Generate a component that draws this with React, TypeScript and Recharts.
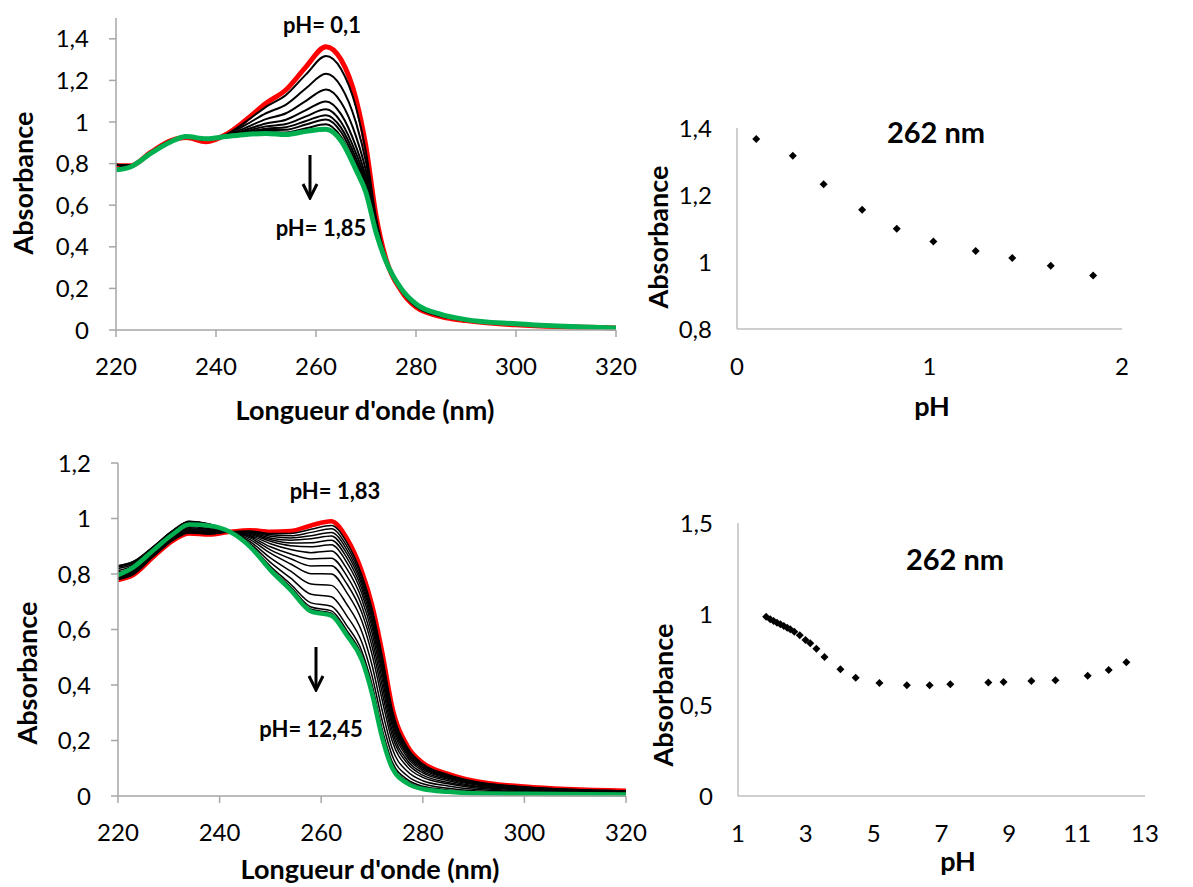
import { LineChart, Line, XAxis, YAxis, ScatterChart, Scatter } from 'recharts'

const wavelengths = [220, 223, 227, 231, 234, 238, 242, 246, 250, 254, 258, 262, 265, 268, 270, 272, 274, 277, 280, 285, 290, 300, 320]

// top spectra: pH 0,1 (red) -> pH 1,85 (green)
const topRed = [0.79, 0.79, 0.855, 0.91, 0.925, 0.905, 0.94, 1.01, 1.09, 1.155, 1.265, 1.362, 1.3, 1.11, 0.88, 0.55, 0.34, 0.19, 0.11, 0.065, 0.045, 0.025, 0.01]
const topC1 = [0.795, 0.79, 0.855, 0.91, 0.928, 0.915, 0.939, 1.002, 1.073, 1.13, 1.229, 1.317, 1.255, 1.071, 0.855, 0.541, 0.339, 0.191, 0.112, 0.066, 0.046, 0.026, 0.01]
const topC2 = [0.795, 0.79, 0.855, 0.91, 0.928, 0.915, 0.937, 0.987, 1.042, 1.084, 1.162, 1.232, 1.171, 0.997, 0.807, 0.523, 0.337, 0.193, 0.115, 0.068, 0.047, 0.027, 0.01]
const topC3 = [0.795, 0.79, 0.855, 0.91, 0.928, 0.915, 0.935, 0.973, 1.014, 1.042, 1.102, 1.156, 1.095, 0.931, 0.764, 0.508, 0.335, 0.195, 0.118, 0.07, 0.048, 0.028, 0.01]
const topC4 = [0.795, 0.79, 0.855, 0.91, 0.928, 0.915, 0.933, 0.963, 0.993, 1.011, 1.057, 1.099, 1.038, 0.882, 0.732, 0.496, 0.333, 0.197, 0.12, 0.072, 0.048, 0.028, 0.01]
const topC5 = [0.795, 0.79, 0.855, 0.91, 0.928, 0.915, 0.932, 0.956, 0.979, 0.99, 1.027, 1.061, 1.0, 0.849, 0.711, 0.489, 0.332, 0.198, 0.122, 0.073, 0.049, 0.029, 0.01]
const topC6 = [0.795, 0.79, 0.855, 0.91, 0.928, 0.915, 0.932, 0.951, 0.968, 0.975, 1.005, 1.033, 0.973, 0.825, 0.695, 0.483, 0.332, 0.198, 0.123, 0.073, 0.049, 0.029, 0.01]
const topC7 = [0.795, 0.79, 0.855, 0.91, 0.928, 0.915, 0.931, 0.947, 0.961, 0.963, 0.988, 1.012, 0.952, 0.806, 0.684, 0.479, 0.331, 0.199, 0.123, 0.074, 0.049, 0.029, 0.01]
const topC8 = [0.795, 0.79, 0.855, 0.91, 0.928, 0.915, 0.93, 0.943, 0.952, 0.95, 0.97, 0.989, 0.929, 0.786, 0.671, 0.474, 0.33, 0.2, 0.124, 0.075, 0.05, 0.03, 0.01]
const topGreen = [0.77, 0.785, 0.85, 0.905, 0.93, 0.92, 0.93, 0.94, 0.945, 0.94, 0.955, 0.965, 0.91, 0.77, 0.66, 0.47, 0.33, 0.2, 0.125, 0.075, 0.05, 0.03, 0.01]
const topBlack = [topC1, topC2, topC3, topC4, topC5, topC6, topC7, topC8]

// bottom spectra: pH 1,83 (red) -> pH 12,45 (green)
const botRed = [0.778, 0.796, 0.862, 0.922, 0.946, 0.942, 0.952, 0.958, 0.952, 0.955, 0.975, 0.99, 0.93, 0.81, 0.69, 0.52, 0.32, 0.18, 0.12, 0.08, 0.055, 0.034, 0.019]
const botB1 = [0.78, 0.798, 0.864, 0.924, 0.948, 0.944, 0.952, 0.955, 0.946, 0.946, 0.961, 0.975, 0.915, 0.796, 0.676, 0.506, 0.31, 0.174, 0.116, 0.077, 0.053, 0.033, 0.018]
const botB2 = [0.782, 0.8, 0.865, 0.925, 0.95, 0.945, 0.952, 0.953, 0.941, 0.938, 0.95, 0.963, 0.902, 0.784, 0.664, 0.495, 0.302, 0.169, 0.112, 0.075, 0.051, 0.032, 0.018]
const botB3 = [0.784, 0.802, 0.866, 0.926, 0.951, 0.946, 0.952, 0.951, 0.936, 0.93, 0.938, 0.95, 0.889, 0.772, 0.652, 0.483, 0.294, 0.164, 0.109, 0.072, 0.05, 0.031, 0.017]
const botB4 = [0.786, 0.804, 0.868, 0.928, 0.953, 0.948, 0.952, 0.949, 0.93, 0.922, 0.927, 0.937, 0.875, 0.76, 0.64, 0.472, 0.286, 0.159, 0.105, 0.07, 0.048, 0.03, 0.017]
const botB5 = [0.788, 0.806, 0.87, 0.93, 0.955, 0.95, 0.952, 0.946, 0.924, 0.912, 0.913, 0.922, 0.86, 0.746, 0.626, 0.458, 0.276, 0.153, 0.101, 0.067, 0.046, 0.029, 0.016]
const botB6 = [0.791, 0.808, 0.872, 0.932, 0.957, 0.952, 0.952, 0.943, 0.918, 0.902, 0.898, 0.905, 0.843, 0.73, 0.61, 0.443, 0.265, 0.146, 0.096, 0.064, 0.044, 0.028, 0.016]
const botB7 = [0.794, 0.811, 0.874, 0.934, 0.96, 0.954, 0.952, 0.939, 0.909, 0.888, 0.877, 0.883, 0.82, 0.709, 0.589, 0.422, 0.251, 0.138, 0.09, 0.06, 0.041, 0.026, 0.015]
const botB8 = [0.798, 0.815, 0.877, 0.937, 0.963, 0.957, 0.952, 0.935, 0.898, 0.872, 0.854, 0.857, 0.794, 0.685, 0.565, 0.399, 0.234, 0.127, 0.083, 0.055, 0.037, 0.024, 0.014]
const botB9 = [0.802, 0.819, 0.88, 0.94, 0.967, 0.96, 0.952, 0.93, 0.887, 0.855, 0.829, 0.83, 0.766, 0.66, 0.54, 0.374, 0.217, 0.117, 0.075, 0.049, 0.034, 0.022, 0.012]
const botB10 = [0.807, 0.823, 0.883, 0.943, 0.971, 0.963, 0.952, 0.924, 0.875, 0.836, 0.801, 0.8, 0.734, 0.631, 0.511, 0.346, 0.197, 0.104, 0.067, 0.044, 0.03, 0.019, 0.011]
const botB11 = [0.813, 0.829, 0.888, 0.948, 0.976, 0.968, 0.952, 0.917, 0.858, 0.81, 0.764, 0.759, 0.692, 0.592, 0.472, 0.309, 0.17, 0.088, 0.055, 0.036, 0.024, 0.016, 0.01]
const botB12 = [0.82, 0.835, 0.892, 0.952, 0.981, 0.972, 0.952, 0.91, 0.842, 0.785, 0.727, 0.718, 0.65, 0.554, 0.434, 0.272, 0.144, 0.072, 0.044, 0.028, 0.019, 0.013, 0.008]
const botB13 = [0.825, 0.84, 0.896, 0.956, 0.986, 0.976, 0.952, 0.904, 0.828, 0.763, 0.696, 0.684, 0.615, 0.522, 0.402, 0.241, 0.122, 0.059, 0.035, 0.022, 0.015, 0.011, 0.006]
const botB14 = [0.827, 0.843, 0.898, 0.958, 0.988, 0.978, 0.952, 0.901, 0.821, 0.753, 0.681, 0.667, 0.598, 0.506, 0.386, 0.226, 0.111, 0.052, 0.03, 0.018, 0.012, 0.009, 0.006]
const botB15 = [0.829, 0.844, 0.899, 0.959, 0.989, 0.979, 0.952, 0.9, 0.817, 0.747, 0.673, 0.659, 0.589, 0.498, 0.378, 0.218, 0.106, 0.048, 0.027, 0.017, 0.011, 0.009, 0.005]
const botB16 = [0.83, 0.845, 0.9, 0.96, 0.99, 0.98, 0.952, 0.899, 0.815, 0.744, 0.668, 0.653, 0.584, 0.493, 0.373, 0.213, 0.102, 0.046, 0.026, 0.016, 0.01, 0.008, 0.005]
const botGreen = [0.796, 0.824, 0.886, 0.946, 0.978, 0.974, 0.952, 0.898, 0.814, 0.742, 0.665, 0.65, 0.58, 0.49, 0.37, 0.21, 0.1, 0.045, 0.025, 0.015, 0.01, 0.008, 0.005]
const botBlack = [botB1, botB2, botB3, botB4, botB5, botB6, botB7, botB8, botB9, botB10, botB11, botB12, botB13, botB14, botB15, botB16]

// absorbance at 262 nm vs pH
const topPh = [0.1, 0.29, 0.45, 0.65, 0.83, 1.02, 1.24, 1.43, 1.63, 1.85]
const topAbs262 = [1.367, 1.317, 1.232, 1.156, 1.099, 1.061, 1.033, 1.012, 0.989, 0.96]
const botPh = [1.83, 1.95, 2.05, 2.15, 2.25, 2.35, 2.45, 2.54, 2.66, 2.82, 2.99, 3.13, 3.31, 3.55, 4.02, 4.47, 5.17, 5.98, 6.65, 7.26, 8.38, 8.83, 9.65, 10.36, 11.31, 11.93, 12.45]
const botAbs262 = [0.985, 0.971, 0.961, 0.952, 0.943, 0.934, 0.925, 0.916, 0.903, 0.883, 0.857, 0.839, 0.809, 0.764, 0.696, 0.65, 0.621, 0.608, 0.608, 0.614, 0.623, 0.626, 0.632, 0.636, 0.661, 0.692, 0.735]

const specTicksX = [220, 240, 260, 280, 300, 320]
const topTicksY = [0, 0.2, 0.4, 0.6, 0.8, 1, 1.2, 1.4]
const botTicksY = [0, 0.2, 0.4, 0.6, 0.8, 1, 1.2]

const FONT = 'Lato, "Open Sans", sans-serif'
const comma = (v: number) => String(v).replace('.', ',')
const tickStyle = { fill: '#000', fontSize: 24, fontFamily: FONT }

const buildRows = (red: number[], black: number[][], green: number[]) =>
  wavelengths.map((wl, i) => {
    const row: Record<string, number> = { wl, red: red[i], green: green[i] }
    black.forEach((c, k) => (row[`c${k}`] = c[i]))
    return row
  })

const topRows = buildRows(topRed, topBlack, topGreen)
const botRows = buildRows(botRed, botBlack, botGreen)
const topPoints = topPh.map((ph, i) => ({ ph, abs: topAbs262[i] }))
const botPoints = botPh.map((ph, i) => ({ ph, abs: botAbs262[i] }))

const Diamond = (props: any) => {
  const { cx, cy } = props
  const r = 4
  return <polygon points={`${cx},${cy - r} ${cx + r},${cy} ${cx},${cy + r} ${cx - r},${cy}`} fill="#000" />
}

const Note = ({ x, y, size = 22, rotate = false, children }: any) => (
  <div
    style={{
      position: 'absolute',
      left: x,
      top: y,
      transform: `translate(-50%, -50%)${rotate ? ' rotate(-90deg)' : ''}`,
      fontFamily: FONT,
      fontWeight: 700,
      fontSize: size,
      whiteSpace: 'nowrap',
      color: '#000',
      lineHeight: 1,
    }}
  >
    {children}
  </div>
)

const Arrow = ({ x, y1, y2 }: { x: number; y1: number; y2: number }) => (
  <svg style={{ position: 'absolute', left: x - 10, top: y1 }} width={20} height={y2 - y1 + 2}>
    <path d={`M10 0 L10 ${y2 - y1 - 1}`} stroke="#000" strokeWidth={3} />
    <path d={`M3 ${y2 - y1 - 14} L10 ${y2 - y1} L17 ${y2 - y1 - 14}`} stroke="#000" strokeWidth={3} fill="none" />
  </svg>
)

const Spectra = ({ rows, ticksY, domainY, width, height, margin, yWidth, xAxisHeight, blackWidth, colorWidth }: any) => (
  <LineChart width={width} height={height} data={rows} margin={margin}>
    <XAxis
      dataKey="wl"
      type="number"
      domain={[220, 320]}
      ticks={specTicksX}
      height={xAxisHeight}
      axisLine={{ stroke: '#a6a6a6', strokeWidth: 1.5 }}
      tickLine={{ stroke: '#a6a6a6', strokeWidth: 1.5 }}
      tickSize={7}
      tickMargin={21}
      tick={tickStyle}
    />
    <YAxis
      type="number"
      domain={domainY}
      ticks={ticksY}
      width={yWidth}
      axisLine={{ stroke: '#a6a6a6', strokeWidth: 1.5 }}
      tickLine={{ stroke: '#a6a6a6', strokeWidth: 1.5 }}
      tickSize={7}
      tickMargin={20}
      tick={tickStyle}
      tickFormatter={comma}
    />
    <Line dataKey="red" type="monotone" stroke="#ff0000" strokeWidth={colorWidth} dot={false} isAnimationActive={false} />
    {Object.keys(rows[0])
      .filter((k) => k.startsWith('c'))
      .map((k) => (
        <Line key={k} dataKey={k} type="monotone" stroke="#000" strokeWidth={blackWidth} dot={false} isAnimationActive={false} />
      ))}
    <Line dataKey="green" type="monotone" stroke="#00b050" strokeWidth={colorWidth} dot={false} isAnimationActive={false} />
  </LineChart>
)

const PhScatter = ({ points, domainX, ticksX, domainY, ticksY, width, height, margin, xAxisHeight, yWidth }: any) => (
  <ScatterChart width={width} height={height} margin={margin}>
    <XAxis
      dataKey="ph"
      type="number"
      domain={domainX}
      ticks={ticksX}
      height={xAxisHeight}
      axisLine={{ stroke: '#bfbfbf', strokeWidth: 1.5 }}
      tickLine={false}
      tickSize={0}
      tickMargin={29}
      tick={tickStyle}
    />
    <YAxis
      dataKey="abs"
      type="number"
      domain={domainY}
      ticks={ticksY}
      width={yWidth}
      axisLine={{ stroke: '#bfbfbf', strokeWidth: 1.5 }}
      tickLine={false}
      tickSize={0}
      tickMargin={25}
      tick={tickStyle}
      tickFormatter={comma}
    />
    <Scatter data={points} shape={Diamond} isAnimationActive={false} />
  </ScatterChart>
)

export default function App() {
  return (
    <div style={{ position: 'absolute', left: 0, top: 0, width: 1193, height: 887, background: '#fff', overflow: 'hidden' }}>
      <div style={{ position: 'absolute', left: 0, top: 0 }}>
        <Spectra
          rows={topRows}
          ticksY={topTicksY}
          domainY={[0, 1.5]}
          width={640}
          height={430}
          margin={{ top: 18, right: 24, bottom: 0, left: 0 }}
          yWidth={116}
          xAxisHeight={100}
          blackWidth={2}
          colorWidth={5}
        />
      </div>
      <div style={{ position: 'absolute', left: 0, top: 440 }}>
        <Spectra
          rows={botRows}
          ticksY={botTicksY}
          domainY={[0, 1.2]}
          width={650}
          height={447}
          margin={{ top: 23, right: 24, bottom: 0, left: 0 }}
          yWidth={118}
          xAxisHeight={91}
          blackWidth={1.5}
          colorWidth={4.5}
        />
      </div>
      <div style={{ position: 'absolute', left: 640, top: 100 }}>
        <PhScatter
          points={topPoints}
          domainX={[0, 2]}
          ticksX={[0, 1, 2]}
          domainY={[0.8, 1.4]}
          ticksY={[0.8, 1, 1.2, 1.4]}
          width={500}
          height={300}
          margin={{ top: 28, right: 18, bottom: 11, left: 0 }}
          xAxisHeight={60}
          yWidth={97}
        />
      </div>
      <div style={{ position: 'absolute', left: 640, top: 500 }}>
        <PhScatter
          points={botPoints}
          domainX={[1, 13]}
          ticksX={[1, 3, 5, 7, 9, 11, 13]}
          domainY={[0, 1.5]}
          ticksY={[0, 0.5, 1, 1.5]}
          width={520}
          height={387}
          margin={{ top: 23, right: 15, bottom: 11, left: 0 }}
          xAxisHeight={80}
          yWidth={98}
        />
      </div>

      <Note x={322} y={25}>pH= 0,1</Note>
      <Note x={321} y={228}>pH= 1,85</Note>
      <Arrow x={310} y1={155} y2={198} />
      <Note x={335} y={491}>pH= 1,83</Note>
      <Note x={311} y={729}>pH= 12,45</Note>
      <Arrow x={316} y1={647} y2={690} />

      <Note x={936} y={131} size={29}>262 nm</Note>
      <Note x={955} y={558} size={29}>262 nm</Note>

      <Note x={365} y={409} size={27}>Longueur d'onde (nm)</Note>
      <Note x={370} y={868} size={27}>Longueur d'onde (nm)</Note>
      <Note x={22} y={183} size={27} rotate>Absorbance</Note>
      <Note x={26} y={673} size={27} rotate>Absorbance</Note>
      <Note x={657} y={237} size={27} rotate>Absorbance</Note>
      <Note x={662} y={695} size={27} rotate>Absorbance</Note>
      <Note x={932} y={405} size={27}>pH</Note>
      <Note x={958} y={860} size={27}>pH</Note>
    </div>
  )
}
